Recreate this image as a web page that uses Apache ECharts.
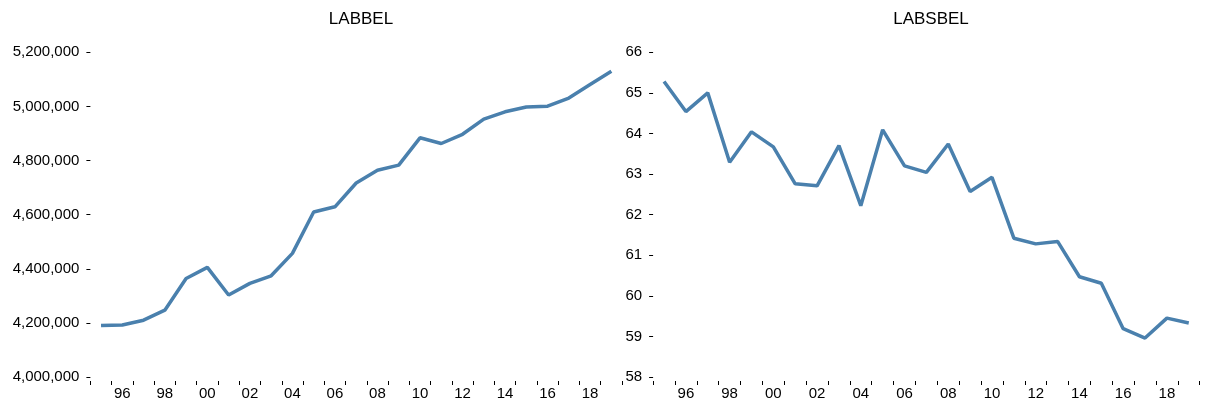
<!DOCTYPE html>
<html>
<head>
<meta charset="utf-8">
<script src="https://cdn.jsdelivr.net/npm/echarts@6/dist/echarts.min.js"></script>
<style>
html,body{margin:0;padding:0;background:#fff;}
#chart{width:1208px;height:405px;}
</style>
</head>
<body>
<div id="chart"></div>
<script>
var years = ['1995','1996','1997','1998','1999','2000','2001','2002','2003','2004','2005','2006','2007','2008','2009','2010','2011','2012','2013','2014','2015','2016','2017','2018','2019'];
var labbel = [4190000,4192000,4210000,4247000,4364000,4405000,4303000,4346000,4374000,4457000,4610000,4629000,4717000,4764000,4783000,4884000,4863000,4897000,4953000,4980000,4998000,5001000,5031000,5081000,5130000];
var labsbel = [65.28,64.54,65.00,63.29,64.04,63.67,62.76,62.71,63.70,62.22,64.09,63.20,63.04,63.74,62.57,62.92,61.42,61.28,61.34,60.47,60.31,59.19,58.96,59.45,59.33];
var titles = ['LABBEL','LABSBEL'];

var FONT = '"Liberation Sans", Arial, Helvetica, sans-serif';
var chart = echarts.init(document.getElementById('chart'), null, {renderer:'canvas'});

function xAxisCfg(gi){
  return {
    type:'category', gridIndex:gi, data:years, boundaryGap:true, offset:4,
    axisLine:{show:false},
    axisTick:{show:true, interval:0, length:4, lineStyle:{color:'#000', width:1}},
    axisLabel:{interval:function(i){return i%2===1;}, formatter:function(v){return v.slice(2);},
      color:'#000', fontSize:15, fontFamily:FONT, margin:5},
    splitLine:{show:false}
  };
}
function yAxisCfg(gi, min, max, interval, fmt){
  return {
    type:'value', gridIndex:gi, min:min, max:max, interval:interval,
    axisLine:{show:false},
    axisTick:{show:true, length:4, lineStyle:{color:'#000', width:1}},
    axisLabel:{color:'#000', fontSize:15, fontFamily:FONT, margin:11, formatter:fmt},
    splitLine:{show:false}
  };
}

chart.setOption({
  animation:false,
  backgroundColor:'#fff',
  title:[
    {text:titles[0], left:356, top:6, textAlign:'center', textStyle:{fontSize:17, fontWeight:'normal', color:'#000', fontFamily:FONT}},
    {text:titles[1], left:926, top:6, textAlign:'center', textStyle:{fontSize:17, fontWeight:'normal', color:'#000', fontFamily:FONT}}
  ],
  grid:[
    {left:90.4, right:586, top:52.3, bottom:28},
    {left:653.1, right:8.3, top:52.3, bottom:28}
  ],
  xAxis:[xAxisCfg(0), xAxisCfg(1)],
  yAxis:[
    yAxisCfg(0, 4000000, 5200000, 200000, function(v){return v.toLocaleString('en-US');}),
    yAxisCfg(1, 58, 66, 1, function(v){return String(v);})
  ],
  series:[
    {type:'line', xAxisIndex:0, yAxisIndex:0, data:labbel, showSymbol:false, symbol:'none',
     lineStyle:{color:'#4a80ad', width:3.5}, itemStyle:{color:'#4a80ad'}},
    {type:'line', xAxisIndex:1, yAxisIndex:1, data:labsbel, showSymbol:false, symbol:'none',
     lineStyle:{color:'#4a80ad', width:3.5}, itemStyle:{color:'#4a80ad'}}
  ]
});
</script>
</body>
</html>
